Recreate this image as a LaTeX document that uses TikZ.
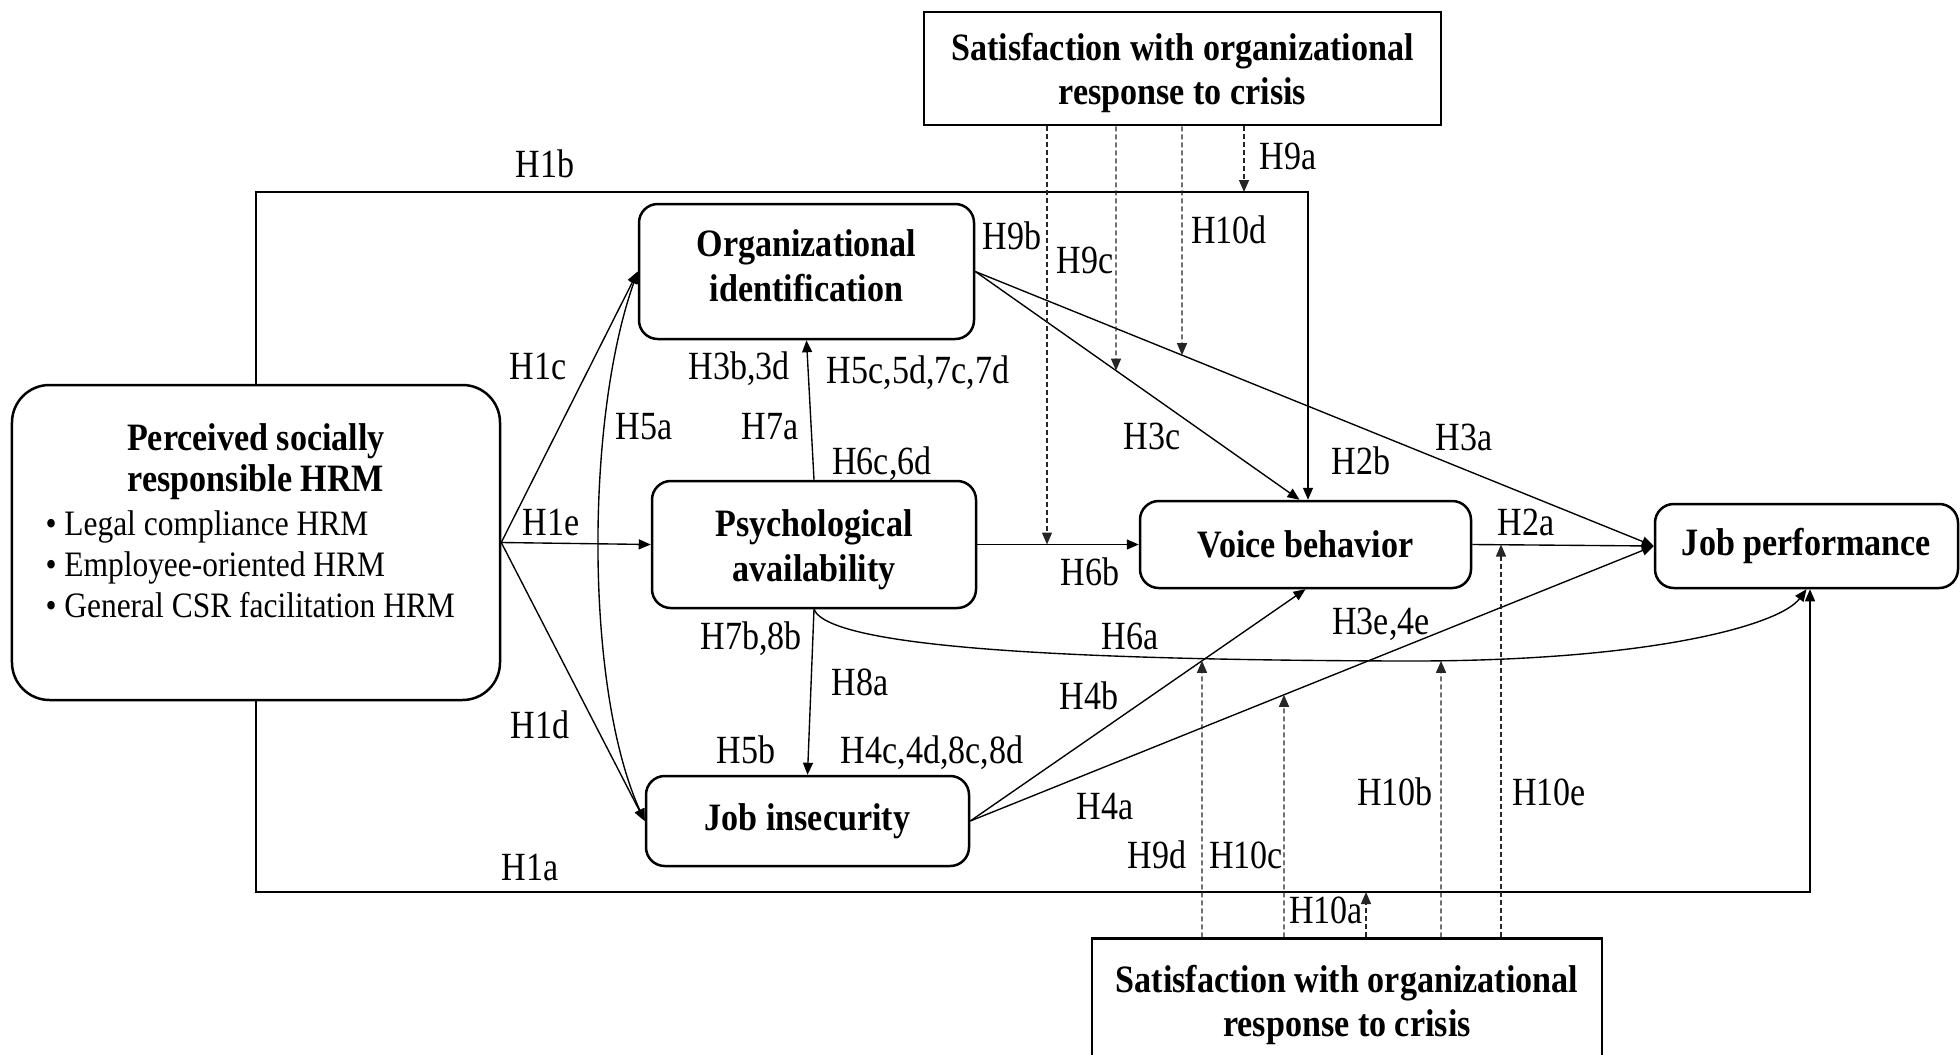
\documentclass[tikz,border=0pt]{standalone}
\usepackage{fontspec}
\setmainfont{Liberation Serif}[FakeStretch=0.88]
\newfontfamily\labelfont{Liberation Serif}[FakeStretch=0.85]
\usetikzlibrary{arrows.meta,intersections,calc}

\begin{document}
\begin{tikzpicture}[x=0.4pt,y=-0.4pt,
  titlefont/.style={font=\bfseries\fontsize{15.5}{18}\selectfont},
  box/.style={draw, line width=1pt, rounded corners=7.5pt, inner sep=0pt, align=center, titlefont},
  modbox/.style={draw, line width=1pt, inner sep=0pt},
  boxtext/.style={titlefont, inner sep=0pt, anchor=base},
  arr/.style={line width=0.55pt, -{Triangle[length=4.8pt,width=4pt]}},
  dblarr/.style={line width=0.55pt, {Triangle[length=4.8pt,width=4pt]}-{Triangle[length=4.8pt,width=4pt]}},
  mod/.style={arr, black!85, dash pattern=on 2pt off 1.2pt},
  lbl/.style={inner sep=0pt, text height=10.6pt, text depth=0pt, font=\labelfont\fontsize{16}{18}\selectfont},
  bullet/.style={inner sep=0pt, anchor=base west, font=\fontsize{14.3}{16}\selectfont},
]
\useasboundingbox (0,0) rectangle (1960,1054);
\fill[white] (0,0) rectangle (1960,1054);
\clip (0,0) rectangle (1960,1054);

% moderator boxes
\node[modbox, minimum width=206.8pt, minimum height=45.2pt] (tm) at (1182.5,68.5) {};
\node[boxtext] (tmA) at (1182.5,60) {Satisfaction with organizational};
\node[boxtext] (tmB) at (1182.5,104) {response to crisis};
\node[modbox, minimum width=204pt, minimum height=51.6pt] (bm) at (1347,1003) {};
\node[boxtext] (bmA) at (1347,992) {Satisfaction with organizational};
\node[boxtext] (bmB) at (1347,1036) {response to crisis};

% independent variable
\node[box, rounded corners=15pt, minimum width=195.2pt, minimum height=126pt] (psr) at (256,542.5) {};
\node[boxtext] (psrA) at (256,450) {Perceived socially};
\node[boxtext] (psrB) at (256,491) {responsible HRM};
\node[bullet] (psrC) at (45,535) {\textbullet\ Legal compliance HRM};
\node[bullet] (psrD) at (45,576) {\textbullet\ Employee-oriented HRM};
\node[bullet] (psrE) at (45,617) {\textbullet\ General CSR facilitation HRM};

% mediators and outcomes
\node[box, minimum width=134pt, minimum height=54pt] (oi) at (806.5,271.5) {};
\node[boxtext] (oiA) at (806.5,256) {Organizational};
\node[boxtext] (oiB) at (806.5,301) {identification};
\node[box, minimum width=129.6pt, minimum height=50.8pt] (pa) at (814,544.5) {};
\node[boxtext] (paA) at (814,536) {Psychological};
\node[boxtext] (paB) at (814,581) {availability};
\node[box, minimum width=129.2pt, minimum height=36pt] (ji) at (807.5,821) {Job insecurity};
\node[box, minimum width=132.4pt, minimum height=34.8pt] (vb) at (1305.5,544.5) {Voice behavior};
\node[box, minimum width=121.2pt, minimum height=33.6pt] (jp) at (1806.5,546) {Job performance};

% direct paths
\draw[arr] (psr.east) -- (oi.west);
\draw[arr] (psr.east) -- (pa.west);
\draw[arr] (psr.east) -- (ji.west);
\draw[dblarr] (oi.west) .. controls (585,420) and (585,690) .. (ji.west);
\draw[arr] (pa.north) -- (oi.south);
\draw[arr] (pa.south) -- (ji.north);
\draw[arr] (pa.east) -- (vb.west);
\draw[arr, name path=h3c] (oi.east) -- ([xshift=-2.4pt]vb.north);
\draw[arr, name path=h3a] (oi.east) -- (jp.west);
\draw[arr] (vb.east) -- (jp.west);
\draw[arr, name path=h4b] (ji.east) -- (vb.south);
\draw[arr, name path=h4a] (ji.east) -- (jp.west);
\draw[arr, name path=h6a] (pa.south) .. controls (830,650) and (1100,660) .. (1400,661)
  .. controls (1650,662) and (1780,625) .. (jp.south);

% outer paths H1b and H1a
\coordinate (h1bTop) at (1308,192);
\coordinate (h1aBot) at (1810,892);
\draw[arr] (psr.north) |- (h1bTop) -- (h1bTop |- vb.north);
\draw[arr] (psr.south) |- (h1aBot) -- (h1aBot |- jp.south);

% moderating paths
\coordinate (x9b) at (1047,0);
\coordinate (x9c) at (1116,0);
\coordinate (x10d) at (1182,0);
\coordinate (x9a) at (1244,0);
\coordinate (x9d) at (1202,0);
\coordinate (x10c) at (1284,0);
\coordinate (x10a) at (1366,0);
\coordinate (x10b) at (1441,0);
\coordinate (x10e) at (1501,0);
\path[name path=v9c] (1116,0) -- (1116,1054);
\path[name path=v10d] (1182,0) -- (1182,1054);
\path[name path=v9d] (1202,0) -- (1202,1054);
\path[name path=v10c] (1284,0) -- (1284,1054);
\path[name path=v10b] (1441,0) -- (1441,1054);
\path[name intersections={of=h3c and v9c, by=t9c}];
\path[name intersections={of=h3a and v10d, by=t10d}];
\path[name intersections={of=h4b and v9d, by=t9d}];
\path[name intersections={of=h4a and v10c, by=t10c}];
\path[name intersections={of=h6a and v10b, by=t10b}];

\draw[mod] (x9b |- tm.south) -- (x9b |- pa.east);
\draw[mod] (x9c |- tm.south) -- (t9c);
\draw[mod] (x10d |- tm.south) -- (t10d);
\draw[mod] (x9a |- tm.south) -- (x9a |- h1bTop);
\draw[mod] (x9d |- bm.north) -- (t9d);
\draw[mod] (x10c |- bm.north) -- (t10c);
\draw[mod] (x10a |- bm.north) -- (x10a |- h1aBot);
\draw[mod] (x10b |- bm.north) -- (t10b);
\draw[mod] (x10e |- bm.north) -- (x10e |- vb.east);

% hypothesis labels
\node[lbl] (lH1b) at (545,164) {H1b};
\node[lbl] (lH1c) at (538,366) {H1c};
\node[lbl] (lH5a) at (644,426) {H5a};
\node[lbl] (lH1e) at (551,522) {H1e};
\node[lbl] (lH1d) at (540,725) {H1d};
\node[lbl] (lH5b) at (746,750) {H5b};
\node[lbl] (lH3b) at (739,366) {H3b,3d};
\node[lbl] (lH5c) at (918,370) {H5c,5d,7c,7d};
\node[lbl] (lH7a) at (770,426) {H7a};
\node[lbl] (lH6c) at (882,461) {H6c,6d};
\node[lbl] (lH7b) at (751,636) {H7b,8b};
\node[lbl] (lH8a) at (860,682) {H8a};
\node[lbl] (lH4c) at (932,750) {H4c,4d,8c,8d};
\node[lbl] (lH4b) at (1089,696) {H4b};
\node[lbl] (lH4a) at (1105,806) {H4a};
\node[lbl] (lH6a) at (1130,636) {H6a};
\node[lbl] (lH3e) at (1381,621) {H3e,4e};
\node[lbl] (lH1a) at (530,867) {H1a};
\node[lbl] (lH9d) at (1157,855) {H9d};
\node[lbl] (lH10c) at (1246,855) {H10c};
\node[lbl] (lH10a) at (1326,910) {H10a};
\node[lbl] (lH10b) at (1395,792) {H10b};
\node[lbl] (lH10e) at (1549,792) {H10e};
\node[lbl] (lH2a) at (1526,522) {H2a};
\node[lbl] (lH2b) at (1361,461) {H2b};
\node[lbl] (lH3a) at (1464,437) {H3a};
\node[lbl] (lH3c) at (1152,436) {H3c};
\node[lbl] (lH6b) at (1090,572) {H6b};
\node[lbl] (lH9b) at (1012,236) {H9b};
\node[lbl] (lH9c) at (1085,260) {H9c};
\node[lbl] (lH10d) at (1229,230) {H10d};
\node[lbl] (lH9a) at (1288,156) {H9a};
\end{tikzpicture}
\end{document}
